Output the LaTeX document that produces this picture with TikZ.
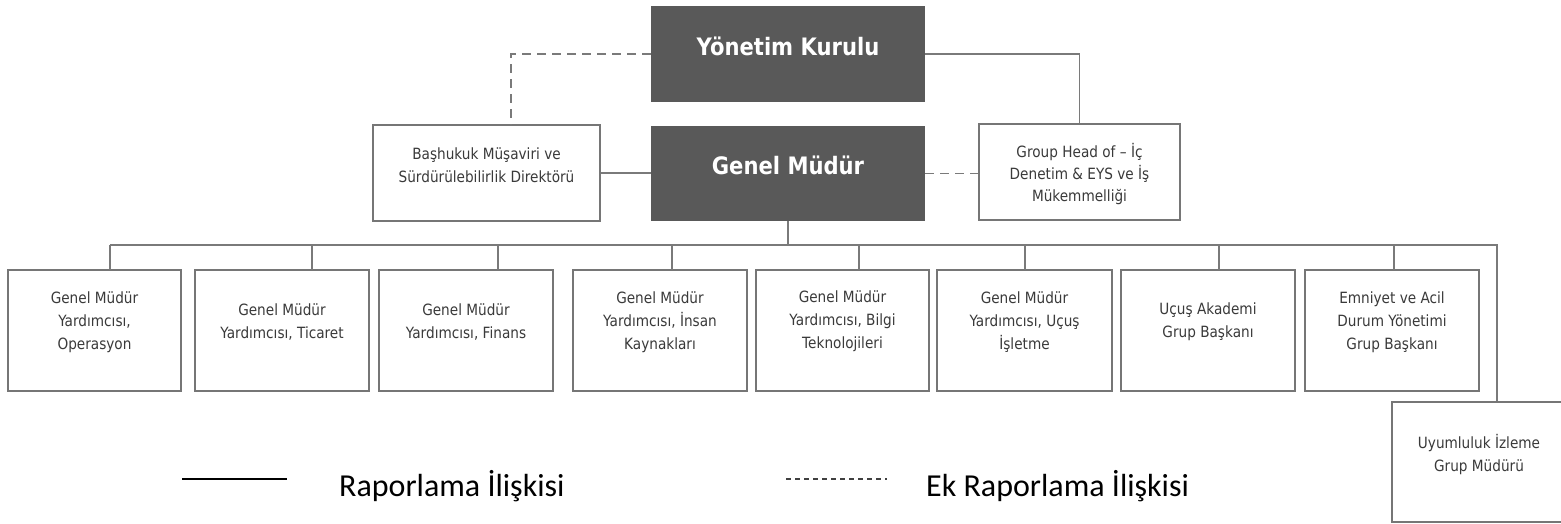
\documentclass[tikz,border=0pt]{standalone}
\usepackage{fontspec}
\newfontfamily\tahfont[FakeStretch=0.88]{DejaVu Sans}
\newfontfamily\legfont{Carlito}
\definecolor{dkfill}{HTML}{595959}
\definecolor{boxc}{HTML}{767676}
\definecolor{linec}{HTML}{7A7A7A}
\definecolor{txtc}{HTML}{3A3A3A}
\begin{document}
\begin{tikzpicture}[x=1pt,y=-1pt,
  box/.style={draw=boxc,line width=1.5pt,fill=white,inner sep=0pt},
  dkbox/.style={fill=dkfill,inner sep=0pt},
  txt/.style={font=\tahfont\fontsize{15.5}{23}\selectfont,text=txtc,align=center,inner sep=0pt},
  ttl/.style={font=\tahfont\bfseries\fontsize{24}{28}\selectfont,text=white,inner sep=0pt},
  conn/.style={draw=linec,line width=1.5pt},
  dconn/.style={draw=linec,line width=1.5pt,dash pattern=on 9pt off 6pt},
  leg/.style={font=\legfont\fontsize{32}{38}\selectfont,text=black,inner sep=0pt,anchor=base west}]
\useasboundingbox (0,0) rectangle (1561,523);
% top level
\node[dkbox,minimum width=274pt,minimum height=96pt] (yk) at (788,54) {};
\node[ttl] (ykt) at (788,46) {Yönetim Kurulu};
\node[dkbox,minimum width=274pt,minimum height=95pt] (gm) at (788,173.5) {};
\node[ttl] (gmt) at (788,165) {Genel Müdür};
\node[box,minimum width=227pt,minimum height=96pt] (bh) at (486.5,173) {};
\node[txt] (bht) at (486.5,165.5) {Başhukuk Müşaviri ve\\Sürdürülebilirlik Direktörü};
\node[box,minimum width=201pt,minimum height=96pt] (gh) at (1079.5,172) {};
\node[txt,font=\tahfont\fontsize{15.5}{22}\selectfont] (ght) at (1079.5,174.5) {Group Head of – İç\\Denetim \& EYS ve İş\\Mükemmelliği};
% second row
\node[box,minimum width=173pt,minimum height=121pt] (b1) at (94.5,330.5) {};
\node[box,minimum width=174pt,minimum height=121pt] (b2) at (282,330.5) {};
\node[box,minimum width=174pt,minimum height=121pt] (b3) at (466,330.5) {};
\node[box,minimum width=174pt,minimum height=121pt] (b4) at (660,330.5) {};
\node[box,minimum width=173pt,minimum height=121pt] (b5) at (842.5,330.5) {};
\node[box,minimum width=175pt,minimum height=121pt] (b6) at (1024.5,330.5) {};
\node[box,minimum width=174pt,minimum height=121pt] (b7) at (1208,330.5) {};
\node[box,minimum width=174pt,minimum height=121pt] (b8) at (1392,330.5) {};
\node[box,minimum width=174pt,minimum height=120pt] (b9) at (1479,462) {};
\node[txt] (b1t) at (94.5,322) {Genel Müdür\\Yardımcısı,\\Operasyon};
\node[txt] (b2t) at (282,322) {Genel Müdür\\Yardımcısı, Ticaret};
\node[txt] (b3t) at (466,322) {Genel Müdür\\Yardımcısı, Finans};
\node[txt] (b4t) at (660,322) {Genel Müdür\\Yardımcısı, İnsan\\Kaynakları};
\node[txt] (b5t) at (842.5,321) {Genel Müdür\\Yardımcısı, Bilgi\\Teknolojileri};
\node[txt] (b6t) at (1024.5,322) {Genel Müdür\\Yardımcısı, Uçuş\\İşletme};
\node[txt] (b7t) at (1208,322) {Uçuş Akademi\\Grup Başkanı};
\node[txt] (b8t) at (1392,322) {Emniyet ve Acil\\Durum Yönetimi\\Grup Başkanı};
\node[txt] (b9t) at (1479,455) {Uyumluluk İzleme\\Grup Müdürü};
% connectors top
\coordinate (bhin) at (511,125);
\draw[dconn] (yk.west) -| (bhin);
\draw[conn] (yk.east) -| (gh.north);
\draw[conn] (bh.east) -- (bh.east -| gm.west);
\draw[dconn] (gm.east) -- (gm.east -| gh.west);
% bus
\coordinate (busL) at (110,245);
\coordinate (busR) at (1497,245);
\draw[conn] (gm.south) -- (gm.south |- busL);
\draw[conn] (busL) -- (busR) -- (busR |- b9.north);
\foreach \n/\x in {1/110,2/312,3/498,4/672,5/859,6/1025,7/1219,8/1394}{
  \coordinate (t\n) at (\x,270);
  \draw[conn] (t\n |- busL) -- (t\n);
}
% legend
\coordinate (l1a) at (182,479);
\coordinate (l1b) at (287,479);
\draw[line width=1.3pt,black] (l1a) -- (l1b);
\node[leg] (l1t) at (339,496) {Raporlama İlişkisi};
\coordinate (l2a) at (786,479);
\coordinate (l2b) at (887,479);
\draw[line width=1.1pt,black!75,dash pattern=on 5pt off 4pt] (l2a) -- (l2b);
\node[leg] (l2t) at (926,496) {Ek Raporlama İlişkisi};
\end{tikzpicture}
\end{document}
